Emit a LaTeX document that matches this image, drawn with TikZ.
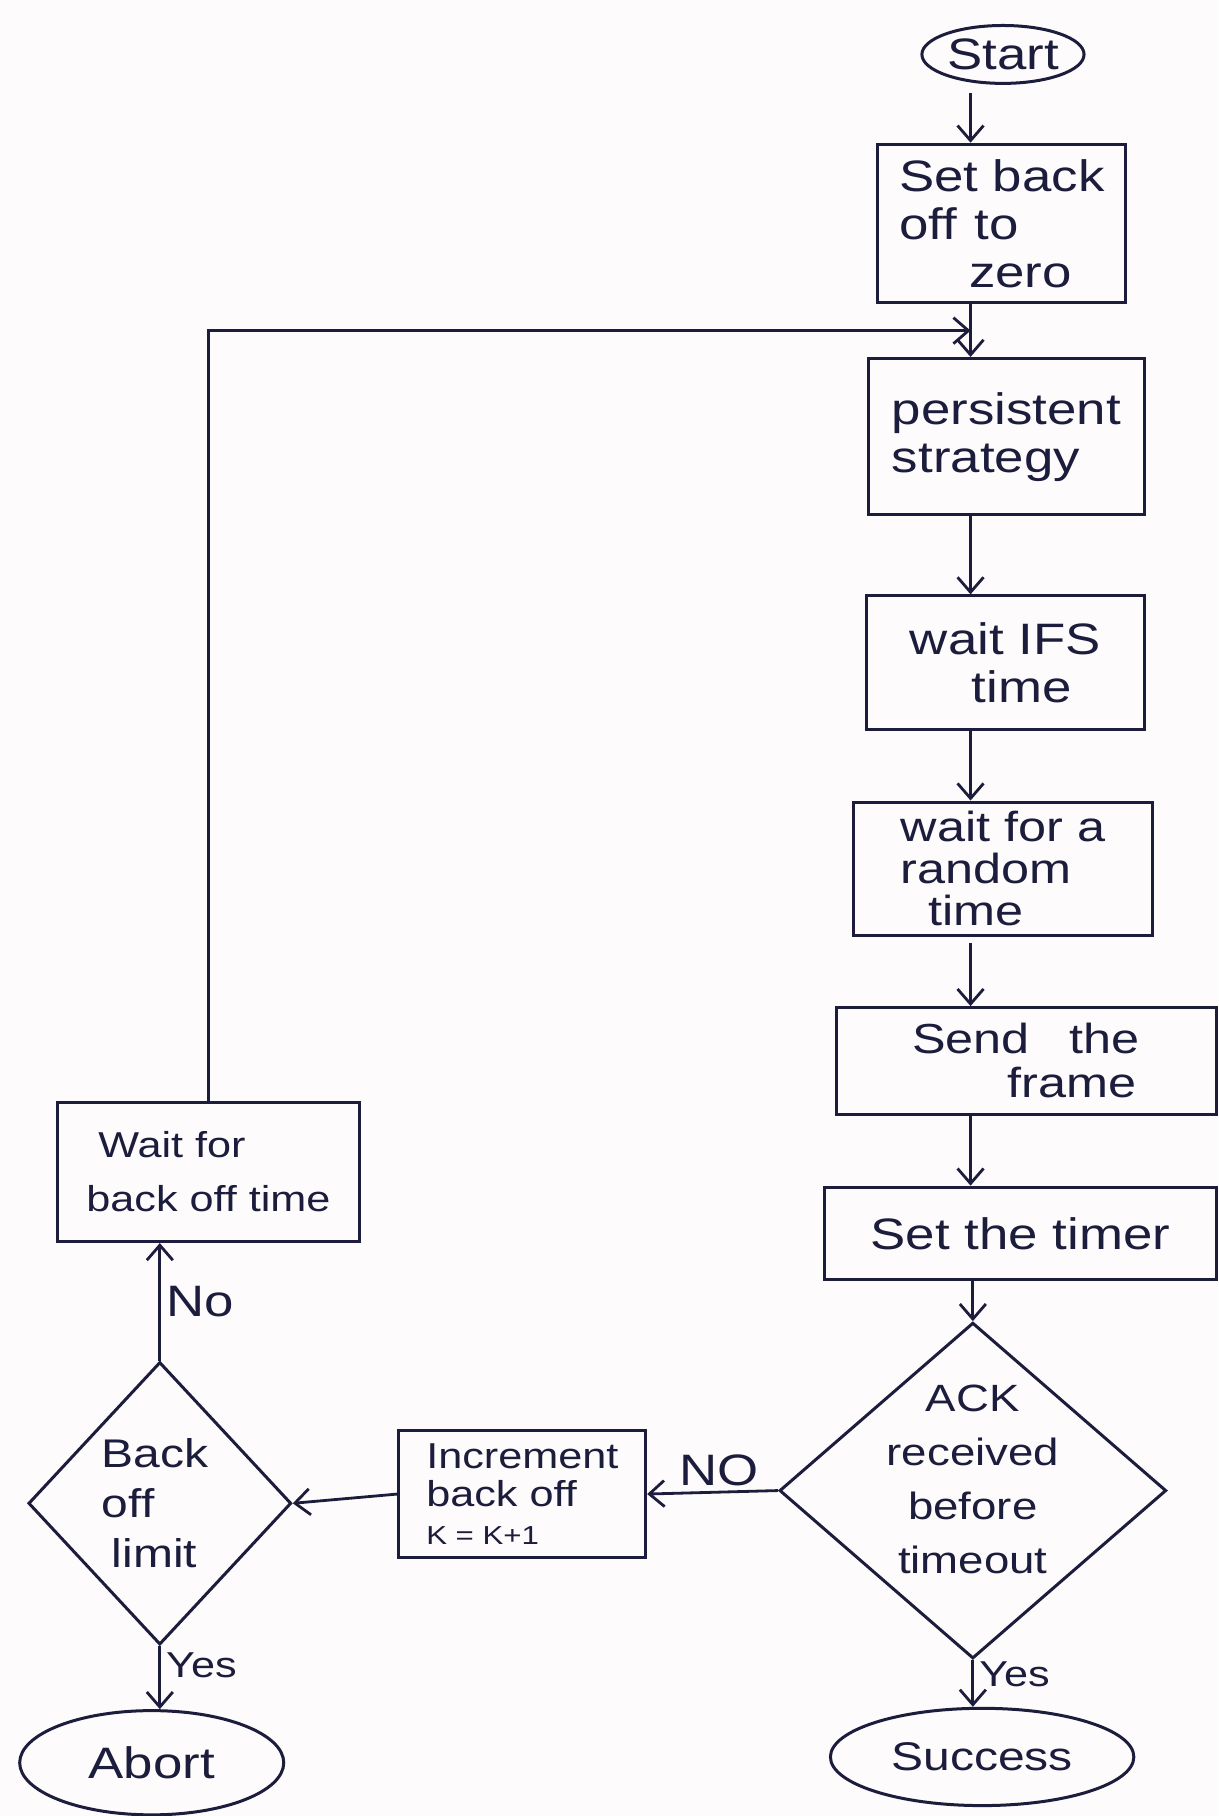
\documentclass[tikz,border=0pt]{standalone}
\usepackage{fontspec}
\setmainfont{Liberation Sans}[FakeStretch=1.2]
\usetikzlibrary{arrows.meta,shapes.geometric,calc}
\definecolor{ink}{RGB}{28,28,60}
\definecolor{paper}{RGB}{253,251,251}
\begin{document}
\begin{tikzpicture}[x=1.158pt,y=-1.158pt,
  every node/.style={text=ink, font=\fontsize{44}{48}\selectfont},
  sz/.style 2 args={minimum width=#1*1.158pt, minimum height=#2*1.158pt, inner sep=0pt},
  box/.style={draw=ink, line width=3pt, rectangle, align=left},
  term/.style={draw=ink, line width=3pt, ellipse},
  dec/.style={draw=ink, line width=3pt, diamond},
  arr/.style={draw=ink, line width=2.8pt, -{Straight Barb[length=15pt,width=26pt,line width=2.8pt]}},
  lbl/.style={text=ink, inner sep=5pt}]

% page
\fill[paper] (0,0) rectangle (1052,1568);
\useasboundingbox (0,0) rectangle (1052,1568);

% main column
\node[term, sz={140}{50}] (start) at (866,47) {Start};
\node[box, sz={214}{137}] (setbo) at (865,193) {Set back\\off\hspace{18pt}to\\\hspace*{70pt}zero};
\node[box, sz={238}{135}] (persist) at (869,377) {persistent\\strategy};
\node[box, sz={240}{115}] (ifs) at (868,572) {wait IFS\\\hspace*{62pt}time};
\node[box, sz={258}{115}, font=\fontsize{42}{42}\selectfont] (rand) at (866,750)
  {wait for a\\random\\\hspace*{28pt}time};
\node[box, sz={328}{92}, font=\fontsize{42}{44}\selectfont] (send) at (886,916)
  {Send\hspace{40pt}the\\\hspace*{95pt}frame};
\node[box, sz={338}{80}] (timer) at (881,1065) {Set the timer};

% decision on acknowledgement
\node[dec, sz={334}{290}] (ack) at (840,1287) {};
\node[align=center, font=\fontsize{38}{54}\selectfont] (acktext) at ([yshift=10*1.158pt]ack.center)
  {ACK\\received\\before\\timeout};

% back-off branch
\node[box, sz={213}{110}, font=\fontsize{36}{38}\selectfont] (incr) at (451,1290)
  {Increment\\back off\\{\fontsize{26}{28}\selectfont K = K+1}};
\node[dec, sz={227}{244}] (bol) at (138,1298) {};
\node[align=left, font=\fontsize{40}{50}\selectfont] (boltext) at ([xshift=-4*1.158pt]bol.center)
  {Back\\off\\\hspace*{10pt}limit};
\node[box, sz={260}{120}, font=\fontsize{36}{54}\selectfont] (waitbo) at (180,1012)
  {\hspace*{12pt}Wait for\\back off time};

% terminals
\node[term, sz={228}{90}] (abort) at (131,1522) {Abort};
\node[term, sz={262}{84}, font=\fontsize{40}{44}\selectfont] (success) at (848,1517) {Success};

% connectors
\coordinate (spine) at (838,0);
\draw[arr, shorten <=8pt] (start.south -| spine) -- (setbo.north -| spine);
\draw[arr] (setbo.south -| spine) -- (persist.north -| spine);
\coordinate (join) at ($(setbo.south -| spine)!0.5!(persist.north -| spine)$);
\draw[arr] (waitbo.north) |- (join);
\draw[arr] (persist.south -| spine) -- (ifs.north -| spine);
\draw[arr] (ifs.south -| spine) -- (rand.north -| spine);
\draw[arr, shorten <=6pt] (rand.south -| spine) -- (send.north -| spine);
\draw[arr] (send.south -| spine) -- (timer.north -| spine);
\draw[arr] (timer.south -| ack.north) -- (ack.north);

\draw[arr] (ack.west) -- (incr.east)
  node[lbl, pos=0.45, above] (lno) {NO};
\draw[arr] (incr.west) -- (bol.east);
\draw[arr] (bol.north) -- (bol.north |- waitbo.south)
  node[lbl, pos=0.5, right] (lno2) {No};
\draw[arr] (bol.south) -- (bol.south |- abort.north)
  node[lbl, pos=0.3, right, font=\fontsize{36}{40}\selectfont] (lyes) {Yes};
\draw[arr] (ack.south) -- (ack.south |- success.north)
  node[lbl, pos=0.3, right, font=\fontsize{36}{40}\selectfont] (lyes2) {Yes};
\end{tikzpicture}
\end{document}
